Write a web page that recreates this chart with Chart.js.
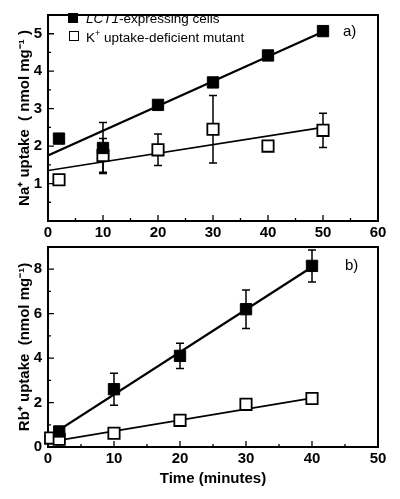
<!DOCTYPE html>
<html>
<head>
<meta charset="utf-8">
<title>uptake</title>
<script src="https://cdn.jsdelivr.net/npm/chart.js@4/dist/chart.umd.min.js"></script>
<style>
  body { margin: 0; background: #fff; font-family: "Liberation Sans", Arial, sans-serif; }
  #wrap { position: relative; width: 400px; height: 499px; overflow: hidden; }
  canvas { position: absolute; left: 0; }
  .lg { position: absolute; font-size: 13.5px; white-space: nowrap; line-height: 1; }
  .sq { position: absolute; width: 10px; height: 10px; box-sizing: border-box; border: 1.5px solid #000; }
  .tag { position: absolute; font-size: 15px; line-height: 1; }
</style>
</head>
<body>
<div id="wrap">
  <canvas id="chartA" width="400" height="240" style="top:0"></canvas>
  <canvas id="chartB" width="400" height="267" style="top:232px"></canvas>
  <div class="sq" style="left:68px;top:13px;background:#000"></div>
  <div class="lg" style="left:86px;top:12px"><i>LCT1</i>-expressing cells</div>
  <div class="sq" style="left:69px;top:31px;background:#fff"></div>
  <div class="lg" style="left:86px;top:29px">K<sup style="font-size:9px">+</sup> uptake-deficient mutant</div>
  <div class="tag" style="left:343px;top:23px">a)</div>
  <div class="tag" style="left:345px;top:257px">b)</div>
</div>
<script>
// panel a: Na+ uptake
const naTime = [2, 10, 20, 30, 40, 50];
const naLct1 = [2.2, 1.95, 3.1, 3.7, 4.42, 5.07];
const naLct1Err = [0, 0.68, 0, 0, 0, 0.12];
const naMutant = [1.1, 1.75, 1.9, 2.45, 2.0, 2.42];
const naMutantErr = [0.13, 0.45, 0.42, 0.9, 0, 0.46];
const naFitTime = [0, 50];
const naLct1Fit = [1.75, 5.05];
const naMutantFit = [1.35, 2.5];

// panel b: Rb+ uptake
const rbTime = [1.7, 10, 20, 30, 40];
const rbLct1 = [0.7, 2.6, 4.1, 6.2, 8.15];
const rbLct1Err = [0, 0.72, 0.57, 0.87, 0.72];
const rbMutantTime = [0.4, 1.7, 10, 20, 30, 40];
const rbMutant = [0.4, 0.35, 0.62, 1.2, 1.92, 2.18];
const rbMutantErr = [0, 0.25, 0, 0, 0, 0];
const rbFitTime = [0, 40];
const rbLct1Fit = [0.45, 8.1];
const rbMutantFit = [0.22, 2.2];

const pts = (xs, ys) => xs.map((x, i) => ({x: x, y: ys[i]}));
const font = {family: '"Liberation Sans", Arial, sans-serif', size: 15, weight: 'bold'};

// frame, inner tick marks and error bars
const decor = {
  id: 'decor',
  beforeDatasetsDraw(chart) {
    const {ctx, chartArea: a, scales: {x, y}} = chart;
    ctx.save();
    ctx.strokeStyle = '#000';
    ctx.lineWidth = 1.3;
    ctx.beginPath();
    x.ticks.forEach(t => {
      const px = x.getPixelForValue(t.value);
      const len = t.value % 10 === 0 ? 6 : 3;
      ctx.moveTo(px, a.bottom); ctx.lineTo(px, a.bottom - len);
    });
    y.ticks.forEach(t => {
      const py = y.getPixelForValue(t.value);
      const len = t.label !== '' ? 6 : 3;
      ctx.moveTo(a.left, py); ctx.lineTo(a.left + len, py);
    });
    ctx.stroke();
    ctx.lineWidth = 2;
    ctx.strokeRect(a.left, a.top, a.right - a.left, a.bottom - a.top);
    ctx.lineWidth = 1.5;
    chart.data.datasets.forEach((ds, i) => {
      if (!ds.errorBars) return;
      ds.data.forEach((p, j) => {
        const e = ds.errorBars[j];
        if (!e) return;
        const px = x.getPixelForValue(p.x);
        const y1 = y.getPixelForValue(p.y + e), y2 = y.getPixelForValue(p.y - e);
        ctx.beginPath();
        ctx.moveTo(px, y1); ctx.lineTo(px, y2);
        ctx.moveTo(px - 4, y1); ctx.lineTo(px + 4, y1);
        ctx.moveTo(px - 4, y2); ctx.lineTo(px + 4, y2);
        ctx.stroke();
      });
    });
    ctx.restore();
  }
};

function panel(id, cfg) {
  return new Chart(document.getElementById(id), {
    type: 'scatter',
    data: {
      datasets: [
        {data: cfg.lct1, errorBars: cfg.lct1Err, pointStyle: 'rect', pointRadius: 8,
         backgroundColor: '#000', borderColor: '#000', borderWidth: 1, clip: false, order: 0},
        {data: cfg.mutant, errorBars: cfg.mutantErr, pointStyle: 'rect', pointRadius: 8,
         backgroundColor: '#fff', borderColor: '#000', borderWidth: 1.8, clip: false, order: 0},
        {type: 'line', data: cfg.lct1Fit, borderColor: '#000', borderWidth: 2.2, pointRadius: 0, order: 1},
        {type: 'line', data: cfg.mutantFit, borderColor: '#000', borderWidth: 1.6, pointRadius: 0, order: 1}
      ]
    },
    options: {
      responsive: false,
      animation: false,
      devicePixelRatio: 1,
      layout: {padding: {top: 8, right: 22, left: 0, bottom: 0}},
      plugins: {legend: {display: false}, tooltip: {enabled: false}},
      scales: {
        x: {
          type: 'linear', min: 0, max: cfg.xMax,
          grid: {display: false, drawTicks: false}, border: {display: false},
          ticks: {stepSize: 5, autoSkip: false, maxRotation: 0, padding: 3, color: '#000', font: font,
                  callback: v => v % 10 === 0 ? v : ''},
          title: {display: !!cfg.xTitle, text: cfg.xTitle, color: '#000', font: font, padding: {top: 0, bottom: 11}},
          afterFit: s => { s.height = cfg.xHeight; }
        },
        y: {
          min: 0, max: cfg.yMax,
          grid: {display: false, drawTicks: false}, border: {display: false},
          ticks: {stepSize: cfg.yStep, autoSkip: false, padding: 6, color: '#000', font: font,
                  callback: cfg.yLabel},
          title: {display: true, text: cfg.yTitle, color: '#000', font: font, padding: {top: 16, bottom: 0}},
          afterFit: s => { s.width = 48; }
        }
      }
    },
    plugins: [decor]
  });
}

panel('chartA', {
  lct1: pts(naTime, naLct1), lct1Err: naLct1Err,
  mutant: pts(naTime, naMutant), mutantErr: naMutantErr,
  lct1Fit: pts(naFitTime, naLct1Fit), mutantFit: pts(naFitTime, naMutantFit),
  xMax: 60, yMax: 5.5, yStep: 0.5, xHeight: 19,
  yLabel: v => Number.isInteger(v) && v > 0 ? v : '',
  yTitle: 'Na\u207A uptake  ( nmol mg\u207B\u00B9 )'
});

panel('chartB', {
  lct1: pts(rbTime, rbLct1), lct1Err: rbLct1Err,
  mutant: pts(rbMutantTime, rbMutant), mutantErr: rbMutantErr,
  lct1Fit: pts(rbFitTime, rbLct1Fit), mutantFit: pts(rbFitTime, rbMutantFit),
  xMax: 50, yMax: 9, yStep: 1, xHeight: 52,
  yLabel: v => v % 2 === 0 && v <= 8 ? v : '',
  yTitle: 'Rb\u207A uptake  (nmol mg\u207B\u00B9)',
  xTitle: 'Time (minutes)'
});
</script>
</body>
</html>
